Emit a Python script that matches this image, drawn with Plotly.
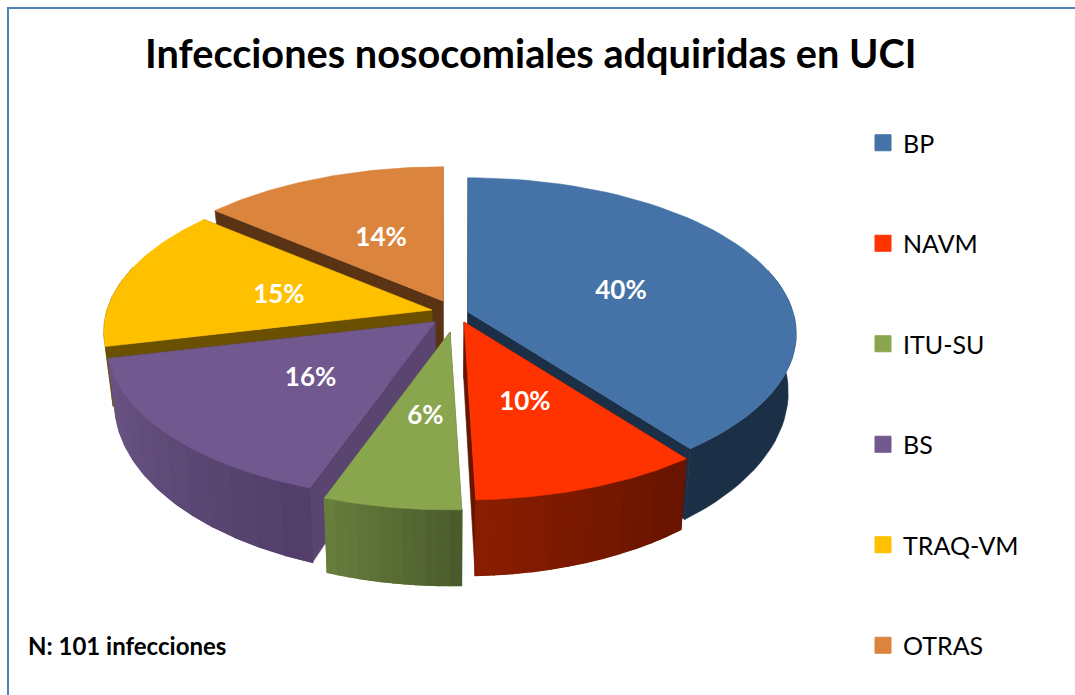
import math
import plotly.graph_objects as go

# --- data ---
categories = ["BP", "NAVM", "ITU-SU", "BS", "TRAQ-VM", "OTRAS"]
counts = [40, 10, 6, 16, 15, 14]          # N = 101 infections
title_text = "Infecciones nosocomiales adquiridas en UCI"
note_text = "N: 101 infecciones"

# --- styling ---
top_colors = ["#4573A7", "#FF3300", "#89A54E", "#71588F", "#FFC000", "#DB843D"]
wall_colors = ["#1B2F47", "#681500", "#4F6230", "#5A4570", "#6A5000", "#5A3315"]
side_left = ["#1B2F47", "#8A1E00", "#687F3E", "#6A5585", "#6A5000", "#5A3315"]
side_right = ["#1B2F47", "#661400", "#4A5B2B", "#513E68", "#6A5000", "#5A3315"]
draw_order = [5, 4, 0, 3, 1, 2]

# --- projection of the tilted, exploded disc onto the axes ---
CX = 450.0
CY = 316.0
RX = 325.0
RY = 153.0
PERSP = 0.14
DEPTH = 56.0
BASE_SHRINK = 0.977
pull = [(18, -4), (14, 6), (0, 16), (-15, 6), (-18, -6), (-7, -15)]
LABEL_SHIFT = (2.5, 4.0)
FONT = "Lato"


def project(r, deg, ox, oy):
    t = math.radians(deg)
    u, v = r * math.sin(t), r * math.cos(t)
    p = 1.0 / (1.0 + PERSP * v)
    return CX + ox + RX * u * p, CY + oy - RY * v * p, p


def top_pt(r, deg, ox, oy):
    x, y, _ = project(r, deg, ox, oy)
    return x, y


def base_pt(r, deg, ox, oy):
    x, y, p = project(r, deg, ox, oy)
    return CX + BASE_SHRINK * (x - CX), y + DEPTH * p * p


def mix(a, b, f):
    ca = [int(a[i:i + 2], 16) for i in (1, 3, 5)]
    cb = [int(b[i:i + 2], 16) for i in (1, 3, 5)]
    return "#%02X%02X%02X" % tuple(round(x + (y - x) * f) for x, y in zip(ca, cb))


def poly(points, color, lw=0.6):
    xs = [q[0] for q in points] + [points[0][0]]
    ys = [q[1] for q in points] + [points[0][1]]
    return go.Scatter(x=xs, y=ys, mode="lines", fill="toself", fillcolor=color,
                      line=dict(color=color, width=lw), showlegend=False, hoverinfo="skip")


total = sum(counts)
edges = [0.0]
for c in counts:
    edges.append(edges[-1] + 360.0 * c / total)

fig = go.Figure()

# real legend entries, one group each so the spacing can be set
for name, col in zip(categories, top_colors):
    fig.add_trace(go.Scatter(x=[None], y=[None], mode="markers", name=name, legendgroup=name,
                             marker=dict(symbol="square", size=16, color=col,
                                         line=dict(color=col, width=1))))

for i in draw_order:
    a, b = edges[i], edges[i + 1]
    ox, oy = pull[i]
    fine = [a + (b - a) * k / 60 for k in range(61)]
    # radial walls
    for e in (a, b):
        fig.add_trace(poly([top_pt(0, e, ox, oy), top_pt(1, e, ox, oy),
                            base_pt(1, e, ox, oy), base_pt(0, e, ox, oy)], wall_colors[i]))
    # outer wall (only the front part of the rim can be seen)
    front = [d for d in fine if math.cos(math.radians(d)) < 0.3]
    if len(front) > 1:
        band = [top_pt(1, d, ox, oy) for d in front] + [base_pt(1, d, ox, oy) for d in reversed(front)]
        fig.add_trace(poly(band, mix(side_left[i], side_right[i], 0.5)))
        if side_left[i] != side_right[i]:
            xa, xb = top_pt(1, front[0], ox, oy)[0], top_pt(1, front[-1], ox, oy)[0]
            seq = front if xa < xb else list(reversed(front))
            n = 12
            chunk = max(1, (len(seq) - 1) // n)
            for k in range(n):
                sub = seq[k * chunk:(k + 1) * chunk + 1]
                if len(sub) < 2:
                    break
                col = mix(side_left[i], side_right[i], (k + 0.5) / n)
                fig.add_trace(poly([top_pt(1, d, ox, oy) for d in sub]
                                   + [base_pt(1, d, ox, oy) for d in reversed(sub)], col, lw=1.4))
    # top face
    fig.add_trace(poly([top_pt(0, a, ox, oy)] + [top_pt(1, d, ox, oy) for d in fine], top_colors[i]))

# percentage labels on the slices
lab_x, lab_y, lab_t = [], [], []
for i, c in enumerate(counts):
    x, y = top_pt(0.5, (edges[i] + edges[i + 1]) / 2, *pull[i])
    lab_x.append(x + LABEL_SHIFT[0])
    lab_y.append(y + LABEL_SHIFT[1])
    lab_t.append(f"{round(100 * c / total)}%")
fig.add_trace(go.Scatter(x=lab_x, y=lab_y, text=lab_t, mode="text", showlegend=False, hoverinfo="skip",
                         textposition="middle center",
                         textfont=dict(family=FONT, size=26, color="white", weight="bold")))

fig.update_layout(
    width=1075, height=695,
    margin=dict(l=0, r=0, t=0, b=0),
    paper_bgcolor="white", plot_bgcolor="white",
    xaxis=dict(range=[0, 1075], visible=False, fixedrange=True),
    yaxis=dict(range=[695, 0], visible=False, fixedrange=True),
    legend=dict(x=863 / 1075, xanchor="left", y=1 - 120 / 695, yanchor="top",
                tracegroupgap=65, itemsizing="trace", bgcolor="rgba(0,0,0,0)",
                font=dict(family=FONT, size=25, color="#000000")),
    shapes=[
        dict(type="line", xref="paper", yref="paper", x0=8 / 1075, x1=8 / 1075, y0=0, y1=1 - 8 / 695,
             line=dict(color="#4F81BD", width=2)),
        dict(type="line", xref="paper", yref="paper", x0=7 / 1075, x1=1, y0=1 - 8 / 695, y1=1 - 8 / 695,
             line=dict(color="#4F81BD", width=2)),
    ],
    annotations=[
        dict(text=f"<b>{title_text}</b>", x=530, y=52, xref="x", yref="y", showarrow=False,
             font=dict(family=FONT, size=39.7, color="black")),
        dict(text=f"<b>{note_text}</b>", x=26, y=645, xref="x", yref="y", xanchor="left", showarrow=False,
             font=dict(family=FONT, size=24, color="black")),
    ],
)

fig.write_html("out.html", config={"displayModeBar": False},
               post_script="document.body.style.margin='0';document.body.style.overflow='hidden';")
